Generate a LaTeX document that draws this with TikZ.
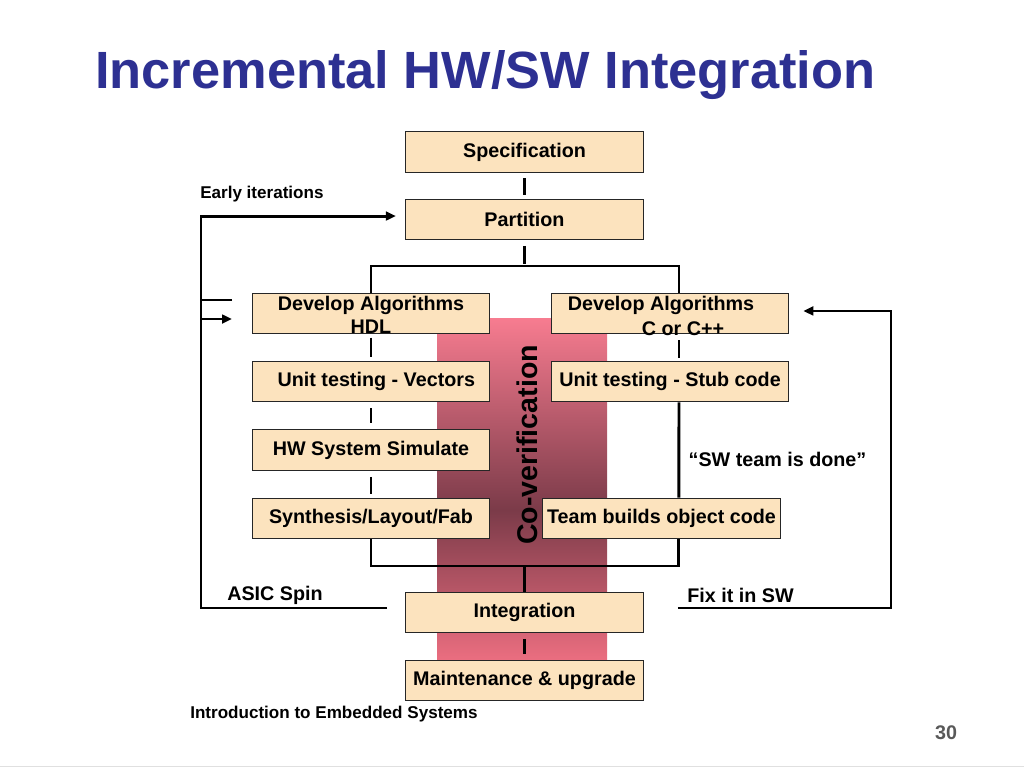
\documentclass[tikz,border=0pt]{standalone}
\usepackage{fontspec}
\setmainfont{Liberation Sans}
\usetikzlibrary{arrows.meta}
\definecolor{peach}{HTML}{FCE3BE}
\definecolor{titleblue}{HTML}{2D3092}
\definecolor{bartop}{HTML}{F77C90}
\definecolor{bardark}{HTML}{7B3B49}
\definecolor{barbot}{HTML}{EB6E80}
\newcommand{\boxfont}{\fontsize{14.8}{17}\selectfont\bfseries}
\begin{document}
\begin{tikzpicture}[x=0.75pt,y=-0.75pt,
  stage/.style={draw=black!85,line width=0.9pt,fill=peach,minimum width=178pt,minimum height=30.5pt,inner sep=0pt,font=\boxfont},
  txt/.style={inner sep=0pt,font=\boxfont},
  link/.style={line width=2.2pt},
  flow/.style={line width=2.2pt,-{Triangle[length=7.5pt,width=6.5pt]}}]
\useasboundingbox (0,0) rectangle (1024,768);
\draw[black!12] (0,766) -- (1024,766);
\node[anchor=west,inner sep=0pt,text=titleblue,font=\fontsize{39.3}{44}\selectfont\bfseries] (title) at (95,75) {Incremental HW/SW Integration};

\shade[top color=bartop,bottom color=bardark] (437,318) rectangle (607,510);
\shade[top color=bardark,bottom color=barbot] (437,510) rectangle (607,660);
\node[rotate=90,inner sep=0pt,font=\fontsize{21.4}{24}\selectfont\bfseries] (cover) at (527,445) {Co-verification};

\node[stage] (spec) at (524.5,152) {Specification};
\node[stage] (part) at (524.5,219.5) {Partition};
\node[stage] (hdl) at (371,313.5) {};
\node[stage] (calg) at (670,313.5) {};
\node[txt] (hdl1) at (371,305) {Develop Algorithms};
\node[txt] (hdl2) at (371,327) {HDL};
\node[txt] (calg1) at (661,305) {Develop Algorithms};
\node[txt] (calg2) at (683,329) {C or C++};
\node[stage] (vec) at (371,381.5) {\hspace*{8pt}Unit testing - Vectors};
\node[stage] (stub) at (670,381.5) {Unit testing - Stub code};
\node[stage] (sim) at (371,450) {\raisebox{-4pt}{HW System Simulate}};
\node[stage] (synth) at (371,518.5) {\raisebox{-4pt}{Synthesis/Layout/Fab}};
\node[stage] (team) at (661.5,518.5) {Team builds object code};
\node[stage] (integ) at (524.5,612.5) {Integration};
\node[stage] (maint) at (524.5,680.5) {Maintenance \& upgrade};

\coordinate (brtop) at (524.5,266);
\coordinate (brbot) at (524.5,566);
\coordinate (lx) at (201,260);
\coordinate (rx) at (891,460);
\coordinate (hwout) at (232,300);
\coordinate (hwin) at (232,319);

\draw[link,shorten <=4pt,shorten >=3pt] (spec) -- (part);
\draw[link,shorten <=4pt,shorten >=1.5pt] (part) -- (brtop);
\draw[link] (hdl.north) |- (brtop) -| ([xshift=6.75pt]calg.north);
\draw[link,shorten <=2.3pt,shorten >=3pt] (hdl) -- (vec);
\draw[link,shorten <=4.5pt,shorten >=4.5pt] (vec) -- (sim);
\draw[link,shorten <=4.5pt,shorten >=3pt] (sim) -- (synth);
\draw[link,shorten <=4.5pt,shorten >=2.3pt] ([xshift=6.75pt]calg.south) -- ([xshift=6.75pt]stub.north);
\draw[link] ([xshift=6.75pt]stub.south) -- ([xshift=13pt]team.north);
\draw[link] (synth.south) |- (brbot) -| ([xshift=13pt]team.south);
\draw[link] (brbot) -- (integ.north);
\draw[link,shorten <=4pt,shorten >=4pt] (integ) -- (maint);

\draw[flow,shorten >=7pt] (hwout) -| (lx) |- ([yshift=2.6pt]part.west);
\draw[flow,shorten <=13.5pt] ([yshift=3.4pt]integ.west) -| (lx) |- (hwin);
\draw[flow,shorten <=25.5pt,shorten >=10.5pt] ([yshift=3.4pt]integ.east) -| (rx) |- ([yshift=1.9pt]calg.east);

\node[anchor=west,inner sep=0pt,font=\fontsize{12.8}{15}\selectfont\bfseries] (early) at (200,194) {Early iterations};
\node[inner sep=0pt,font=\boxfont] (asic) at (275,595) {ASIC Spin};
\node[inner sep=0pt,font=\boxfont] (fixsw) at (740.5,595) {Fix it in SW};
\node[inner sep=0pt,font=\boxfont] (done) at (777.5,459) {“SW team is done”};
\node[anchor=west,inner sep=0pt,font=\fontsize{12.8}{15}\selectfont\bfseries] (intro) at (190,714) {Introduction to Embedded Systems};
\node[inner sep=0pt,text=black!65,font=\fontsize{14.8}{17}\selectfont\bfseries] (page) at (946,733) {30};
\end{tikzpicture}
\end{document}
